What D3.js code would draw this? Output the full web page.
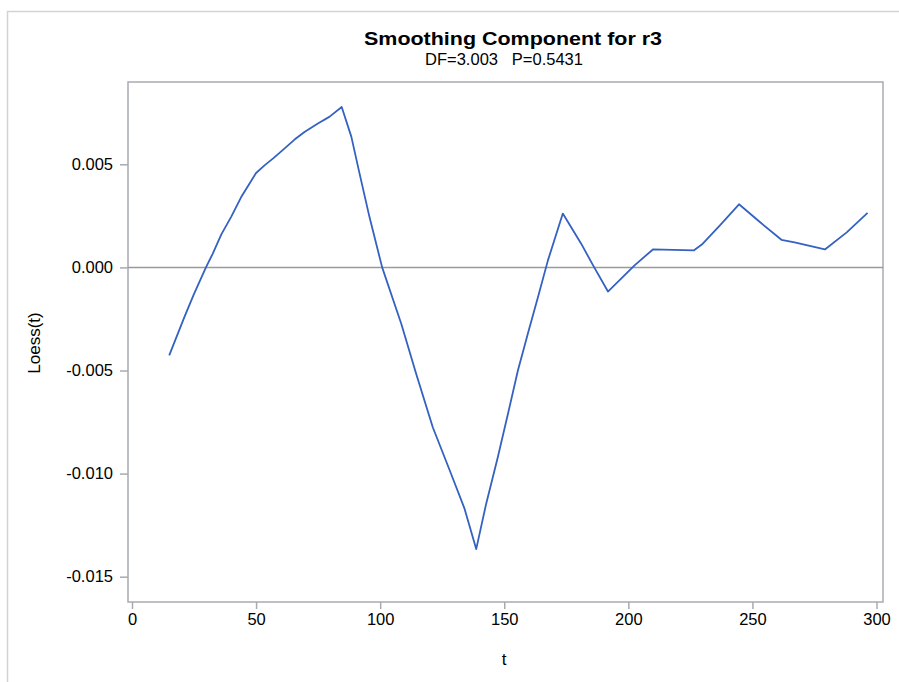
<!DOCTYPE html>
<html>
<head>
<meta charset="utf-8">
<script src="https://cdn.jsdelivr.net/npm/d3@7"></script>
<style>
  html, body { margin: 0; padding: 0; background: #fff; }
  svg text { font-family: Arial, "Liberation Sans", sans-serif; fill: #000; }
</style>
</head>
<body>
<svg id="chart" width="899" height="682"></svg>
<script>
// ---- data ----
const title = "Smoothing Component for r3";
const subtitle = "DF=3.003   P=0.5431";
const xLabel = "t";
const yLabel = "Loess(t)";
const xTicks = [0, 50, 100, 150, 200, 250, 300];
const yTicks = [0.005, 0.000, -0.005, -0.010, -0.015];
const tValues = [15, 21.1, 25, 29.8, 32.5, 36, 39.9, 44, 47, 50, 53.4, 57, 61.4, 65.5, 69.5, 74.9, 79.5, 84.5,
  88.4, 91.7, 95.7, 100.8, 108.5, 114.5, 121.2, 128.6, 134, 138.7,
  142.7, 147.4, 151.5, 155.5, 159.5, 163.6, 167.6, 173.6,
  181, 185.8, 191.8, 202.5, 209.9, 226.5, 230, 237, 244.6, 253, 261.7, 267, 279.2, 288, 296.4];
const loessValues = [-0.00427, -0.00241, -0.00128, 0.0, 0.00066, 0.00160, 0.00244, 0.00341, 0.00400, 0.00458, 0.00495, 0.00530, 0.00576, 0.00620, 0.00657, 0.00698, 0.00730, 0.00778,
  0.00633, 0.00455, 0.00244, 0.0, -0.00273, -0.00516, -0.00775, -0.01002, -0.01170, -0.01366,
  -0.01147, -0.00921, -0.0071, -0.005, -0.00322, -0.00144, 0.00034, 0.00261,
  0.00115, 0.0001, -0.00117, 0.0001, 0.00087, 0.00083, 0.00115, 0.00205, 0.00306, 0.00220, 0.00134, 0.00121, 0.00087, 0.00170, 0.00264];

// ---- layout ----
const svg = d3.select("#chart");
const frame = { left: 128, right: 883, top: 82, bottom: 602 };

const x = d3.scaleLinear().domain([0, 300]).range([132, 876.5]);
const y = d3.scaleLinear().domain([-0.015, 0.005]).range([576.7, 164.3]);

// outer border
svg.append("rect")
  .attr("x", 7.5).attr("y", 11.5)
  .attr("width", 899).attr("height", 700)
  .attr("fill", "none").attr("stroke", "#d3d3d3").attr("stroke-width", 1.5);

// title
svg.append("text")
  .attr("x", 513).attr("y", 45)
  .attr("text-anchor", "middle")
  .attr("textLength", 298).attr("lengthAdjust", "spacingAndGlyphs")
  .style("font-size", "19px").style("font-weight", "bold")
  .text(title);
svg.append("text")
  .attr("x", 504).attr("y", 64.5)
  .attr("text-anchor", "middle")
  .attr("textLength", 158).attr("lengthAdjust", "spacingAndGlyphs")
  .style("font-size", "16px").style("white-space", "pre")
  .text(subtitle);

// frame
svg.append("rect")
  .attr("x", frame.left).attr("y", frame.top)
  .attr("width", frame.right - frame.left).attr("height", frame.bottom - frame.top)
  .attr("fill", "none").attr("stroke", "#a7abb0").attr("stroke-width", 1.5);

// zero reference line
svg.append("line")
  .attr("x1", frame.left).attr("x2", frame.right)
  .attr("y1", y(0)).attr("y2", y(0))
  .attr("stroke", "#9a9a9a").attr("stroke-width", 1.5);

// x axis
const xAxis = d3.axisBottom(x).tickValues(xTicks).tickSize(7).tickPadding(4).tickSizeOuter(0);
const gx = svg.append("g").attr("transform", `translate(0,${frame.bottom})`).call(xAxis);
gx.select(".domain").remove();
gx.selectAll(".tick line").attr("stroke", "#a7abb0").attr("stroke-width", 1.5);
gx.selectAll(".tick text").style("font-size", "16.5px").attr("fill", "#333");

// y axis
const yAxis = d3.axisLeft(y).tickValues(yTicks).tickFormat(d3.format(".3f")).tickSize(8).tickPadding(7).tickSizeOuter(0);
const gy = svg.append("g").attr("transform", `translate(${frame.left},0)`).call(yAxis);
gy.select(".domain").remove();
gy.selectAll(".tick line").attr("stroke", "#a7abb0").attr("stroke-width", 1.5);
gy.selectAll(".tick text").style("font-size", "16.5px").attr("fill", "#333")
  .text(d => d3.format(".3f")(d).replace("−", "-"));

// axis labels
svg.append("text")
  .attr("x", 504).attr("y", 665)
  .attr("text-anchor", "middle")
  .style("font-size", "17px").attr("fill", "#333")
  .text(xLabel);
svg.append("text")
  .attr("transform", "translate(40,343) rotate(-90)")
  .attr("text-anchor", "middle")
  .style("font-size", "17px").attr("fill", "#333")
  .text(yLabel);

// loess curve
const pts = tValues.map((t, i) => [t, loessValues[i]]);
svg.append("path")
  .datum(pts)
  .attr("fill", "none")
  .attr("stroke", "#3462c0")
  .attr("stroke-width", 1.8)
  .attr("stroke-linejoin", "round")
  .attr("d", d3.line().x(d => x(d[0])).y(d => y(d[1])));
</script>
</body>
</html>
